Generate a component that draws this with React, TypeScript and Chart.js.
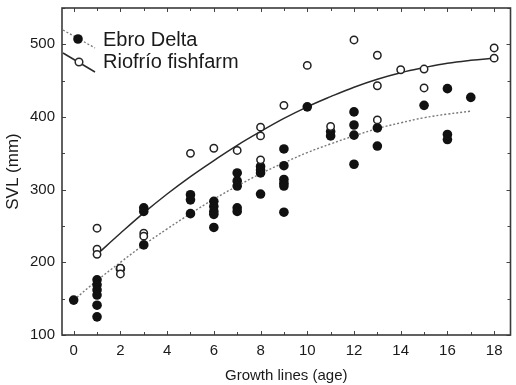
import React, { useEffect, useRef } from "react";
import { Chart, registerables } from "chart.js";

Chart.register(...registerables);

// ---------- data ----------
const seriesNames = ["Ebro Delta", "Riofrío fishfarm"];
const xTitle = "Growth lines (age)";
const yTitle = "SVL (mm)";
const xTicks = [0, 2, 4, 6, 8, 10, 12, 14, 16, 18];
const yTicks = [100, 200, 300, 400, 500];

// Ebro Delta (filled circles)
const ebroAge = [
  0,
  1, 1, 1, 1, 1, 1,
  2,
  3, 3, 3,
  5, 5, 5,
  6, 6, 6, 6, 6,
  7, 7, 7, 7, 7,
  8, 8, 8, 8,
  9, 9, 9, 9, 9, 9,
  10,
  11, 11,
  12, 12, 12, 12,
  13, 13,
  15,
  16, 16, 16,
  17,
];
const ebroSVL = [
  148,
  176, 169, 162, 155, 141, 125,
  191,
  275, 270, 224,
  293, 286, 267,
  284, 277, 270, 266, 248,
  323, 312, 305, 275, 270,
  332, 327, 323, 294,
  356, 333, 314, 309, 305, 269,
  414,
  380, 374,
  407, 389, 375, 335,
  385, 360,
  416,
  439, 376, 369,
  427,
];

// Riofrío fishfarm (open circles)
const rioAge = [1, 1, 1, 2, 2, 3, 3, 5, 6, 7, 8, 8, 8, 9, 10, 11, 12, 13, 13, 13, 14, 15, 15, 18, 18];
const rioSVL = [247, 218, 211, 192, 184, 240, 236, 350, 357, 354, 386, 374, 341, 416, 471, 387, 506, 485, 443, 396, 465, 466, 440, 495, 481];

// fitted growth curves
const ebroCurveAge = [0, 1, 2, 3, 4, 5, 6, 7, 8, 9, 10, 11, 12, 13, 14, 15, 16, 17];
const ebroCurveSVL = [148, 175, 200, 224, 246, 267, 287, 305, 322, 337, 351, 363, 374, 384, 392, 399, 404, 408];
const rioCurveAge = [1, 2, 3, 4, 5, 6, 7, 8, 9, 10, 11, 12, 13, 14, 15, 16, 17, 18];
const rioCurveSVL = [211, 240, 268, 294, 318, 340, 361, 380, 398, 414, 428, 441, 452, 461, 468, 474, 478, 481];

const FONT = "'Liberation Sans', Arial, Helvetica, sans-serif";
const INK = "#1a1a1a";

const pts = (xs: number[], ys: number[]) => xs.map((x, i) => ({ x, y: ys[i] }));

const framePlugin = {
  id: "frameTicksLegend",
  afterDraw(chart: any) {
    const { ctx, chartArea: a, scales } = chart;
    const x = scales.x;
    const y = scales.y;
    ctx.save();
    // ticks (inward, all sides)
    ctx.strokeStyle = "#444";
    ctx.lineWidth = 1;
    for (let v = 0; v <= 18; v++) {
      const px = Math.round(x.getPixelForValue(v)) + 0.5;
      const len = v % 2 === 0 ? 4 : 3;
      ctx.beginPath();
      ctx.moveTo(px, a.bottom);
      ctx.lineTo(px, a.bottom - len);
      ctx.moveTo(px, a.top);
      ctx.lineTo(px, a.top + len);
      ctx.stroke();
    }
    for (let v = 100; v <= 550; v += 50) {
      const py = Math.round(y.getPixelForValue(v)) + 0.5;
      const len = v % 100 === 0 ? 4 : 3;
      ctx.beginPath();
      ctx.moveTo(a.left, py);
      ctx.lineTo(a.left + len, py);
      ctx.moveTo(a.right, py);
      ctx.lineTo(a.right - len, py);
      ctx.stroke();
    }
    // frame
    ctx.strokeStyle = "#3a3a3a";
    ctx.lineWidth = 1.6;
    ctx.strokeRect(a.left, a.top, a.right - a.left, a.bottom - a.top);

    // legend
    const lx0 = a.left + 1;
    const lx1 = a.left + 33;
    // Ebro Delta: dotted line + filled circle
    ctx.strokeStyle = "#777";
    ctx.lineWidth = 1.3;
    ctx.setLineDash([2, 2]);
    ctx.beginPath();
    ctx.moveTo(lx0, 30);
    ctx.lineTo(lx1, 48);
    ctx.stroke();
    ctx.setLineDash([]);
    ctx.fillStyle = "#111";
    ctx.beginPath();
    ctx.arc(78, 39, 4.8, 0, Math.PI * 2);
    ctx.fill();
    // Riofrío: solid line + open circle
    ctx.strokeStyle = "#2a2a2a";
    ctx.lineWidth = 1.5;
    ctx.beginPath();
    ctx.moveTo(lx0, 53);
    ctx.lineTo(lx1, 72);
    ctx.stroke();
    ctx.fillStyle = "#fff";
    ctx.beginPath();
    ctx.arc(79, 62, 3.8, 0, Math.PI * 2);
    ctx.fill();
    ctx.stroke();

    ctx.fillStyle = INK;
    ctx.font = `20px ${FONT}`;
    ctx.textAlign = "left";
    ctx.textBaseline = "middle";
    ctx.fillText(seriesNames[0], 103, 40);
    ctx.fillText(seriesNames[1], 103, 62);
    ctx.restore();
  },
};

export default function App() {
  const ref = useRef<HTMLCanvasElement | null>(null);

  useEffect(() => {
    document.body.style.margin = "0";
    const canvas = ref.current;
    if (!canvas) return;
    const chart = new Chart(canvas, {
      type: "scatter",
      data: {
        datasets: [
          {
            type: "line",
            label: seriesNames[0] + " fit",
            data: pts(ebroCurveAge, ebroCurveSVL),
            borderColor: "#7a7a7a",
            borderWidth: 1.4,
            borderDash: [2, 2],
            pointRadius: 0,
            fill: false,
            tension: 0.4,
            order: 4,
          } as any,
          {
            type: "line",
            label: seriesNames[1] + " fit",
            data: pts(rioCurveAge, rioCurveSVL),
            borderColor: "#2a2a2a",
            borderWidth: 1.5,
            pointRadius: 0,
            fill: false,
            tension: 0.4,
            order: 3,
          } as any,
          {
            label: seriesNames[0],
            data: pts(ebroAge, ebroSVL),
            backgroundColor: "#111",
            borderColor: "#111",
            borderWidth: 0,
            pointRadius: 4.8,
            order: 2,
          },
          {
            label: seriesNames[1],
            data: pts(rioAge, rioSVL),
            backgroundColor: "#fff",
            borderColor: "#222",
            borderWidth: 1.5,
            pointRadius: 3.7,
            order: 1,
          },
        ],
      },
      options: {
        responsive: false,
        animation: false,
        devicePixelRatio: 1,
        layout: { padding: { top: 8, right: 2, left: 0, bottom: 0 } },
        plugins: {
          legend: { display: false },
          tooltip: { enabled: false },
        },
        scales: {
          x: {
            type: "linear",
            min: -0.5,
            max: 18.7,
            grid: { display: false, drawTicks: false },
            border: { display: false },
            afterBuildTicks: (s: any) => {
              s.ticks = xTicks.map((v) => ({ value: v }));
            },
            afterFit: (s: any) => {
              s.height = 50;
              s.paddingLeft = 0;
              s.paddingRight = 0;
            },
            ticks: {
              padding: 7,
              color: INK,
              font: { family: FONT, size: 15 },
              maxRotation: 0,
              autoSkip: false,
            },
            title: {
              display: true,
              text: xTitle,
              color: INK,
              font: { family: FONT, size: 15 },
              padding: { top: 0, bottom: 0 },
            },
          },
          y: {
            type: "linear",
            min: 100,
            max: 550,
            grid: { display: false, drawTicks: false },
            border: { display: false },
            afterBuildTicks: (s: any) => {
              s.ticks = yTicks.map((v) => ({ value: v }));
            },
            afterFit: (s: any) => {
              s.width = 62;
              s.paddingTop = 0;
              s.paddingBottom = 0;
            },
            ticks: {
              padding: 7,
              color: INK,
              font: { family: FONT, size: 15 },
              autoSkip: false,
            },
            title: {
              display: true,
              text: yTitle,
              color: INK,
              font: { family: FONT, size: 17 },
              padding: { top: 3, bottom: 0 },
            },
          },
        },
      },
      plugins: [framePlugin],
    });
    return () => chart.destroy();
  }, []);

  return <canvas ref={ref} width={516} height={385} style={{ display: "block" }} />;
}
